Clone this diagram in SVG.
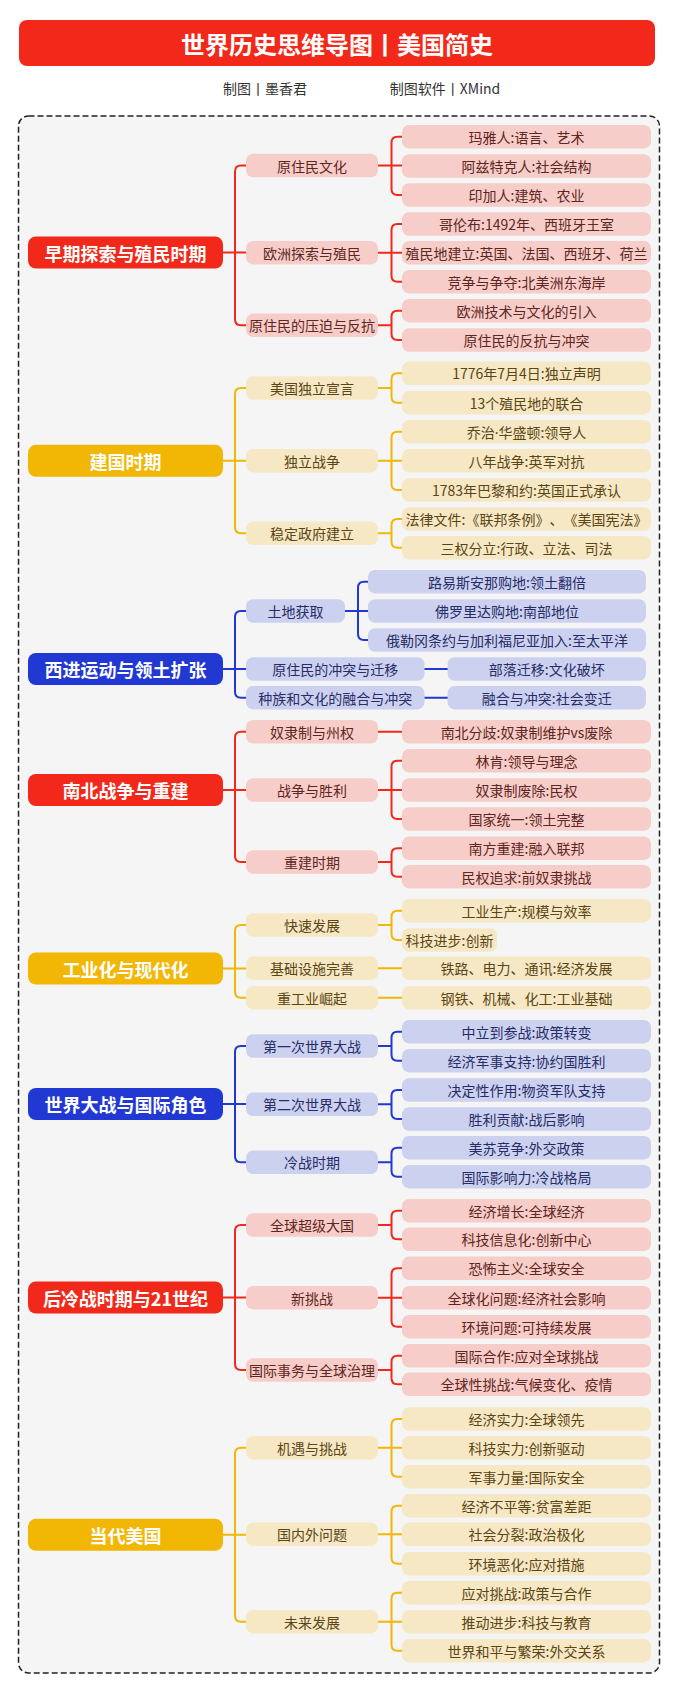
<svg xmlns="http://www.w3.org/2000/svg" width="685" height="1688" viewBox="0 0 685 1688">
<style>
text{font-family:"Noto Sans CJK SC","Noto Sans",sans-serif;font-size:14px;text-anchor:middle;dominant-baseline:central;text-spacing-trim:space-all}
.rt{font-size:18px;font-weight:bold;fill:#fff}
.rr{fill:#f2291a}.ry{fill:#f2b705}.rb{fill:#2238d2}
.pr{fill:#f7cdc9}.py{fill:#f7e8c5}.pb{fill:#cdd1f0}
.tr{fill:#5e2620}.ty{fill:#5a4514}.tb{fill:#262d66}
.c{fill:none;stroke-width:2;stroke-linecap:round}
.cr{stroke:#f2291a}.cy{stroke:#f2b705}.cb{stroke:#2238d2}
</style>
<rect width="685" height="1688" fill="#ffffff"/>
<g id="title">
<rect x="19" y="20" width="636" height="46" rx="8" fill="#f2291a"/>
<text x="337" y="43" style="font-size:24px;font-weight:bold;fill:#fff">世界历史思维导图丨美国简史</text>
</g>
<g id="subtitle">
<text x="265" y="88" style="fill:#333">制图丨墨香君</text>
<text x="445" y="88" style="fill:#333">制图软件丨XMind</text>
</g>
<rect id="frame" x="18.5" y="116" width="641" height="1557" rx="10" fill="#f5f5f5" stroke="#222" stroke-width="1.5" stroke-dasharray="6 3"/>

<g id="connectors">
<path class="c cr" d="M246,165.5 H241 Q235,165.5 235,171.5 V319.3 Q235,325.3 241,325.3 H246 M223,252.5 H246"/>
<path class="c cr" d="M378,165.5 H402 M402,136.7 H397.5 Q391.5,136.7 391.5,142.7 V189 Q391.5,195 397.5,195 H402"/>
<path class="c cr" d="M378,252.7 H402 M402,224 H397.5 Q391.5,224 391.5,230 V275.7 Q391.5,281.7 397.5,281.7 H402"/>
<path class="c cr" d="M378,325.3 H391.5 M402,310.7 H397.5 Q391.5,310.7 391.5,316.7 V334 Q391.5,340 397.5,340 H402"/>

<path class="c cy" d="M246,388 H241 Q235,388 235,394 V527.3 Q235,533.3 241,533.3 H246 M223,460.8 H246"/>
<path class="c cy" d="M378,388 H391.5 M402,373.3 H397.5 Q391.5,373.3 391.5,379.3 V396.7 Q391.5,402.7 397.5,402.7 H402"/>
<path class="c cy" d="M378,460.7 H402 M402,431.7 H397.5 Q391.5,431.7 391.5,437.7 V484 Q391.5,490 397.5,490 H402"/>
<path class="c cy" d="M378,533.3 H391.5 M402,519 H397.5 Q391.5,519 391.5,525 V541.7 Q391.5,547.7 397.5,547.7 H402"/>

<path class="c cb" d="M246,611 H241 Q235,611 235,617 V691.7 Q235,697.7 241,697.7 H246 M223,669 H246"/>
<path class="c cb" d="M345,611 H368 M368,581.7 H364 Q358,581.7 358,587.7 V634 Q358,640 364,640 H368"/>
<path class="c cb" d="M424.5,669 H447.6"/>
<path class="c cb" d="M424.5,697.7 H447.6"/>

<path class="c cr" d="M246,731.7 H241 Q235,731.7 235,737.7 V856 Q235,862 241,862 H246 M223,790 H246"/>
<path class="c cr" d="M378,731.7 H402"/>
<path class="c cr" d="M378,790 H402 M402,760.7 H397.5 Q391.5,760.7 391.5,766.7 V813 Q391.5,819 397.5,819 H402"/>
<path class="c cr" d="M378,862 H391.5 M402,848.3 H397.5 Q391.5,848.3 391.5,854.3 V870.7 Q391.5,876.7 397.5,876.7 H402"/>

<path class="c cy" d="M246,925 H241 Q235,925 235,931 V991.7 Q235,997.7 241,997.7 H246 M223,968.5 H246"/>
<path class="c cy" d="M378,925 H391.5 M402,910.7 H397.5 Q391.5,910.7 391.5,916.7 V934 Q391.5,940 397.5,940 H402"/>
<path class="c cy" d="M378,968.3 H402"/>
<path class="c cy" d="M378,997.7 H402"/>

<path class="c cb" d="M246,1046 H241 Q235,1046 235,1052 V1156.3 Q235,1162.3 241,1162.3 H246 M223,1104 H246"/>
<path class="c cb" d="M378,1046 H391.5 M402,1031.7 H397.5 Q391.5,1031.7 391.5,1037.7 V1054.7 Q391.5,1060.7 397.5,1060.7 H402"/>
<path class="c cb" d="M378,1104.3 H391.5 M402,1090 H397.5 Q391.5,1090 391.5,1096 V1113 Q391.5,1119 397.5,1119 H402"/>
<path class="c cb" d="M378,1162.3 H391.5 M402,1147.7 H397.5 Q391.5,1147.7 391.5,1153.7 V1170.7 Q391.5,1176.7 397.5,1176.7 H402"/>

<path class="c cr" d="M246,1225 H241 Q235,1225 235,1231 V1364 Q235,1370 241,1370 H246 M223,1297.5 H246"/>
<path class="c cr" d="M378,1225 H391.5 M402,1210.7 H397.5 Q391.5,1210.7 391.5,1216.7 V1233.3 Q391.5,1239.3 397.5,1239.3 H402"/>
<path class="c cr" d="M378,1297.7 H402 M402,1268.3 H397.5 Q391.5,1268.3 391.5,1274.3 V1320.7 Q391.5,1326.7 397.5,1326.7 H402"/>
<path class="c cr" d="M378,1370 H391.5 M402,1355.7 H397.5 Q391.5,1355.7 391.5,1361.7 V1378.3 Q391.5,1384.3 397.5,1384.3 H402"/>

<path class="c cy" d="M246,1447.7 H241 Q235,1447.7 235,1453.7 V1615.7 Q235,1621.7 241,1621.7 H246 M223,1534.8 H246"/>
<path class="c cy" d="M378,1447.7 H402 M402,1419 H397.5 Q391.5,1419 391.5,1425 V1470.7 Q391.5,1476.7 397.5,1476.7 H402"/>
<path class="c cy" d="M378,1534.3 H402 M402,1505.7 H397.5 Q391.5,1505.7 391.5,1511.7 V1557.7 Q391.5,1563.7 397.5,1563.7 H402"/>
<path class="c cy" d="M378,1621.7 H402 M402,1592.7 H397.5 Q391.5,1592.7 391.5,1598.7 V1644.7 Q391.5,1650.7 397.5,1650.7 H402"/>
</g>

<!-- Section 1 -->
<g id="s1-root"><rect class="rr" x="28" y="236.5" width="195" height="32" rx="8"/><text class="rt" x="125.5" y="252.5">早期探索与殖民时期</text></g>
<g id="s1-b1"><rect class="pr" x="246" y="153.8" width="132" height="23.4" rx="7"/><text class="tr" x="312" y="165.5">原住民文化</text></g>
<g id="s1-b2"><rect class="pr" x="246" y="241" width="132" height="23.4" rx="7"/><text class="tr" x="312" y="252.7">欧洲探索与殖民</text></g>
<g id="s1-b3"><rect class="pr" x="246" y="313.6" width="132" height="23.4" rx="7"/><text class="tr" x="312" y="325.3">原住民的压迫与反抗</text></g>
<g id="s1-l1"><rect class="pr" x="402" y="125" width="249" height="23.4" rx="7"/><text class="tr" x="526.5" y="136.7">玛雅人:语言、艺术</text></g>
<g id="s1-l2"><rect class="pr" x="402" y="154.3" width="249" height="23.4" rx="7"/><text class="tr" x="526.5" y="166">阿兹特克人:社会结构</text></g>
<g id="s1-l3"><rect class="pr" x="402" y="183.3" width="249" height="23.4" rx="7"/><text class="tr" x="526.5" y="195">印加人:建筑、农业</text></g>
<g id="s1-l4"><rect class="pr" x="402" y="212.3" width="249" height="23.4" rx="7"/><text class="tr" x="526.5" y="224">哥伦布:1492年、西班牙王室</text></g>
<g id="s1-l5"><rect class="pr" x="402" y="241" width="249" height="23.4" rx="7"/><text class="tr" x="526.5" y="252.7">殖民地建立:英国、法国、西班牙、荷兰</text></g>
<g id="s1-l6"><rect class="pr" x="402" y="270" width="249" height="23.4" rx="7"/><text class="tr" x="526.5" y="281.7">竞争与争夺:北美洲东海岸</text></g>
<g id="s1-l7"><rect class="pr" x="402" y="299" width="249" height="23.4" rx="7"/><text class="tr" x="526.5" y="310.7">欧洲技术与文化的引入</text></g>
<g id="s1-l8"><rect class="pr" x="402" y="328.3" width="249" height="23.4" rx="7"/><text class="tr" x="526.5" y="340">原住民的反抗与冲突</text></g>

<!-- Section 2 -->
<g id="s2-root"><rect class="ry" x="28" y="444.8" width="195" height="32" rx="8"/><text class="rt" x="125.5" y="460.8">建国时期</text></g>
<g id="s2-b1"><rect class="py" x="246" y="376.3" width="132" height="23.4" rx="7"/><text class="ty" x="312" y="388">美国独立宣言</text></g>
<g id="s2-b2"><rect class="py" x="246" y="449" width="132" height="23.4" rx="7"/><text class="ty" x="312" y="460.7">独立战争</text></g>
<g id="s2-b3"><rect class="py" x="246" y="521.6" width="132" height="23.4" rx="7"/><text class="ty" x="312" y="533.3">稳定政府建立</text></g>
<g id="s2-l1"><rect class="py" x="402" y="361.6" width="249" height="23.4" rx="7"/><text class="ty" x="526.5" y="373.3">1776年7月4日:独立声明</text></g>
<g id="s2-l2"><rect class="py" x="402" y="391" width="249" height="23.4" rx="7"/><text class="ty" x="526.5" y="402.7">13个殖民地的联合</text></g>
<g id="s2-l3"><rect class="py" x="402" y="420" width="249" height="23.4" rx="7"/><text class="ty" x="526.5" y="431.7">乔治<tspan style="font-family:'Noto Sans',sans-serif">·</tspan>华盛顿:领导人</text></g>
<g id="s2-l4"><rect class="py" x="402" y="449" width="249" height="23.4" rx="7"/><text class="ty" x="526.5" y="460.7">八年战争:英军对抗</text></g>
<g id="s2-l5"><rect class="py" x="402" y="478.3" width="249" height="23.4" rx="7"/><text class="ty" x="526.5" y="490">1783年巴黎和约:英国正式承认</text></g>
<g id="s2-l6"><rect class="py" x="402" y="507.3" width="249" height="23.4" rx="7"/><text class="ty" x="526.5" y="519">法律文件:《联邦条例》、《美国宪法》</text></g>
<g id="s2-l7"><rect class="py" x="402" y="536" width="249" height="23.4" rx="7"/><text class="ty" x="526.5" y="547.7">三权分立:行政、立法、司法</text></g>

<!-- Section 3 -->
<g id="s3-root"><rect class="rb" x="28" y="653" width="195" height="32" rx="8"/><text class="rt" x="125.5" y="669">西进运动与领土扩张</text></g>
<g id="s3-b1"><rect class="pb" x="246" y="599.3" width="99" height="23.4" rx="7"/><text class="tb" x="295.5" y="611">土地获取</text></g>
<g id="s3-b2"><rect class="pb" x="246" y="657.3" width="178.5" height="23.4" rx="7"/><text class="tb" x="335.2" y="669">原住民的冲突与迁移</text></g>
<g id="s3-b3"><rect class="pb" x="246" y="686" width="178.5" height="23.4" rx="7"/><text class="tb" x="335.2" y="697.7">种族和文化的融合与冲突</text></g>
<g id="s3-l1"><rect class="pb" x="368" y="570" width="278" height="23.4" rx="7"/><text class="tb" x="507" y="581.7">路易斯安那购地:领土翻倍</text></g>
<g id="s3-l2"><rect class="pb" x="368" y="599.3" width="278" height="23.4" rx="7"/><text class="tb" x="507" y="611">佛罗里达购地:南部地位</text></g>
<g id="s3-l3"><rect class="pb" x="368" y="628.3" width="278" height="23.4" rx="7"/><text class="tb" x="507" y="640">俄勒冈条约与加利福尼亚加入:至太平洋</text></g>
<g id="s3-l4"><rect class="pb" x="447.6" y="657.3" width="198.4" height="23.4" rx="7"/><text class="tb" x="546.8" y="669">部落迁移:文化破坏</text></g>
<g id="s3-l5"><rect class="pb" x="447.6" y="686" width="198.4" height="23.4" rx="7"/><text class="tb" x="546.8" y="697.7">融合与冲突:社会变迁</text></g>

<!-- Section 4 -->
<g id="s4-root"><rect class="rr" x="28" y="774" width="195" height="32" rx="8"/><text class="rt" x="125.5" y="790">南北战争与重建</text></g>
<g id="s4-b1"><rect class="pr" x="246" y="720" width="132" height="23.4" rx="7"/><text class="tr" x="312" y="731.7">奴隶制与州权</text></g>
<g id="s4-b2"><rect class="pr" x="246" y="778.3" width="132" height="23.4" rx="7"/><text class="tr" x="312" y="790">战争与胜利</text></g>
<g id="s4-b3"><rect class="pr" x="246" y="850.3" width="132" height="23.4" rx="7"/><text class="tr" x="312" y="862">重建时期</text></g>
<g id="s4-l1"><rect class="pr" x="402" y="720" width="249" height="23.4" rx="7"/><text class="tr" x="526.5" y="731.7">南北分歧:奴隶制维护vs废除</text></g>
<g id="s4-l2"><rect class="pr" x="402" y="749" width="249" height="23.4" rx="7"/><text class="tr" x="526.5" y="760.7">林肯:领导与理念</text></g>
<g id="s4-l3"><rect class="pr" x="402" y="778.3" width="249" height="23.4" rx="7"/><text class="tr" x="526.5" y="790">奴隶制废除:民权</text></g>
<g id="s4-l4"><rect class="pr" x="402" y="807.3" width="249" height="23.4" rx="7"/><text class="tr" x="526.5" y="819">国家统一:领土完整</text></g>
<g id="s4-l5"><rect class="pr" x="402" y="836.6" width="249" height="23.4" rx="7"/><text class="tr" x="526.5" y="848.3">南方重建:融入联邦</text></g>
<g id="s4-l6"><rect class="pr" x="402" y="865" width="249" height="23.4" rx="7"/><text class="tr" x="526.5" y="876.7">民权追求:前奴隶挑战</text></g>

<!-- Section 5 -->
<g id="s5-root"><rect class="ry" x="28" y="952.5" width="195" height="32" rx="8"/><text class="rt" x="125.5" y="968.5">工业化与现代化</text></g>
<g id="s5-b1"><rect class="py" x="246" y="913.3" width="132" height="23.4" rx="7"/><text class="ty" x="312" y="925">快速发展</text></g>
<g id="s5-b2"><rect class="py" x="246" y="956.6" width="132" height="23.4" rx="7"/><text class="ty" x="312" y="968.3">基础设施完善</text></g>
<g id="s5-b3"><rect class="py" x="246" y="986" width="132" height="23.4" rx="7"/><text class="ty" x="312" y="997.7">重工业崛起</text></g>
<g id="s5-l1"><rect class="py" x="402" y="899" width="249" height="23.4" rx="7"/><text class="ty" x="526.5" y="910.7">工业生产:规模与效率</text></g>
<g id="s5-l2"><rect class="py" x="402" y="928.3" width="95" height="23.4" rx="7"/><text class="ty" x="449.5" y="940">科技进步:创新</text></g>
<g id="s5-l3"><rect class="py" x="402" y="956.6" width="249" height="23.4" rx="7"/><text class="ty" x="526.5" y="968.3">铁路、电力、通讯:经济发展</text></g>
<g id="s5-l4"><rect class="py" x="402" y="986" width="249" height="23.4" rx="7"/><text class="ty" x="526.5" y="997.7">钢铁、机械、化工:工业基础</text></g>

<!-- Section 6 -->
<g id="s6-root"><rect class="rb" x="28" y="1088" width="195" height="32" rx="8"/><text class="rt" x="125.5" y="1104">世界大战与国际角色</text></g>
<g id="s6-b1"><rect class="pb" x="246" y="1034.3" width="132" height="23.4" rx="7"/><text class="tb" x="312" y="1046">第一次世界大战</text></g>
<g id="s6-b2"><rect class="pb" x="246" y="1092.6" width="132" height="23.4" rx="7"/><text class="tb" x="312" y="1104.3">第二次世界大战</text></g>
<g id="s6-b3"><rect class="pb" x="246" y="1150.6" width="132" height="23.4" rx="7"/><text class="tb" x="312" y="1162.3">冷战时期</text></g>
<g id="s6-l1"><rect class="pb" x="402" y="1020" width="249" height="23.4" rx="7"/><text class="tb" x="526.5" y="1031.7">中立到参战:政策转变</text></g>
<g id="s6-l2"><rect class="pb" x="402" y="1049" width="249" height="23.4" rx="7"/><text class="tb" x="526.5" y="1060.7">经济军事支持:协约国胜利</text></g>
<g id="s6-l3"><rect class="pb" x="402" y="1078.3" width="249" height="23.4" rx="7"/><text class="tb" x="526.5" y="1090">决定性作用:物资军队支持</text></g>
<g id="s6-l4"><rect class="pb" x="402" y="1107.3" width="249" height="23.4" rx="7"/><text class="tb" x="526.5" y="1119">胜利贡献:战后影响</text></g>
<g id="s6-l5"><rect class="pb" x="402" y="1136" width="249" height="23.4" rx="7"/><text class="tb" x="526.5" y="1147.7">美苏竞争:外交政策</text></g>
<g id="s6-l6"><rect class="pb" x="402" y="1165" width="249" height="23.4" rx="7"/><text class="tb" x="526.5" y="1176.7">国际影响力:冷战格局</text></g>

<!-- Section 7 -->
<g id="s7-root"><rect class="rr" x="28" y="1281.5" width="195" height="32" rx="8"/><text class="rt" x="125.5" y="1297.5">后冷战时期与21世纪</text></g>
<g id="s7-b1"><rect class="pr" x="246" y="1213.3" width="132" height="23.4" rx="7"/><text class="tr" x="312" y="1225">全球超级大国</text></g>
<g id="s7-b2"><rect class="pr" x="246" y="1286" width="132" height="23.4" rx="7"/><text class="tr" x="312" y="1297.7">新挑战</text></g>
<g id="s7-b3"><rect class="pr" x="246" y="1358.3" width="132" height="23.4" rx="7"/><text class="tr" x="312" y="1370">国际事务与全球治理</text></g>
<g id="s7-l1"><rect class="pr" x="402" y="1199" width="249" height="23.4" rx="7"/><text class="tr" x="526.5" y="1210.7">经济增长:全球经济</text></g>
<g id="s7-l2"><rect class="pr" x="402" y="1227.6" width="249" height="23.4" rx="7"/><text class="tr" x="526.5" y="1239.3">科技信息化:创新中心</text></g>
<g id="s7-l3"><rect class="pr" x="402" y="1256.6" width="249" height="23.4" rx="7"/><text class="tr" x="526.5" y="1268.3">恐怖主义:全球安全</text></g>
<g id="s7-l4"><rect class="pr" x="402" y="1286" width="249" height="23.4" rx="7"/><text class="tr" x="526.5" y="1297.7">全球化问题:经济社会影响</text></g>
<g id="s7-l5"><rect class="pr" x="402" y="1315" width="249" height="23.4" rx="7"/><text class="tr" x="526.5" y="1326.7">环境问题:可持续发展</text></g>
<g id="s7-l6"><rect class="pr" x="402" y="1344" width="249" height="23.4" rx="7"/><text class="tr" x="526.5" y="1355.7">国际合作:应对全球挑战</text></g>
<g id="s7-l7"><rect class="pr" x="402" y="1372.6" width="249" height="23.4" rx="7"/><text class="tr" x="526.5" y="1384.3">全球性挑战:气候变化、疫情</text></g>

<!-- Section 8 -->
<g id="s8-root"><rect class="ry" x="28" y="1518.8" width="195" height="32" rx="8"/><text class="rt" x="125.5" y="1534.8">当代美国</text></g>
<g id="s8-b1"><rect class="py" x="246" y="1436" width="132" height="23.4" rx="7"/><text class="ty" x="312" y="1447.7">机遇与挑战</text></g>
<g id="s8-b2"><rect class="py" x="246" y="1522.6" width="132" height="23.4" rx="7"/><text class="ty" x="312" y="1534.3">国内外问题</text></g>
<g id="s8-b3"><rect class="py" x="246" y="1610" width="132" height="23.4" rx="7"/><text class="ty" x="312" y="1621.7">未来发展</text></g>
<g id="s8-l1"><rect class="py" x="402" y="1407.3" width="249" height="23.4" rx="7"/><text class="ty" x="526.5" y="1419">经济实力:全球领先</text></g>
<g id="s8-l2"><rect class="py" x="402" y="1436" width="249" height="23.4" rx="7"/><text class="ty" x="526.5" y="1447.7">科技实力:创新驱动</text></g>
<g id="s8-l3"><rect class="py" x="402" y="1465" width="249" height="23.4" rx="7"/><text class="ty" x="526.5" y="1476.7">军事力量:国际安全</text></g>
<g id="s8-l4"><rect class="py" x="402" y="1494" width="249" height="23.4" rx="7"/><text class="ty" x="526.5" y="1505.7">经济不平等:贫富差距</text></g>
<g id="s8-l5"><rect class="py" x="402" y="1522.6" width="249" height="23.4" rx="7"/><text class="ty" x="526.5" y="1534.3">社会分裂:政治极化</text></g>
<g id="s8-l6"><rect class="py" x="402" y="1552" width="249" height="23.4" rx="7"/><text class="ty" x="526.5" y="1563.7">环境恶化:应对措施</text></g>
<g id="s8-l7"><rect class="py" x="402" y="1581" width="249" height="23.4" rx="7"/><text class="ty" x="526.5" y="1592.7">应对挑战:政策与合作</text></g>
<g id="s8-l8"><rect class="py" x="402" y="1610" width="249" height="23.4" rx="7"/><text class="ty" x="526.5" y="1621.7">推动进步:科技与教育</text></g>
<g id="s8-l9"><rect class="py" x="402" y="1639" width="249" height="23.4" rx="7"/><text class="ty" x="526.5" y="1650.7">世界和平与繁荣:外交关系</text></g>
</svg>
